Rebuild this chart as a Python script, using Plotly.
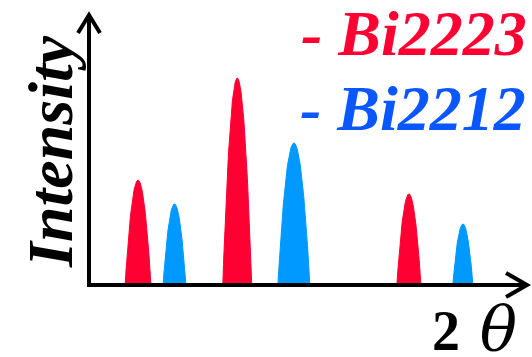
import numpy as np
import plotly.graph_objects as go

# ---- data (arbitrary 2θ units / intensity units) ----
red_centers = [11.4, 34.0, 73.1]
red_heights = [38.7, 76.4, 33.6]
red_widths = [5.9, 6.6, 5.5]

blue_centers = [19.7, 46.9, 85.4]
blue_heights = [29.9, 52.4, 22.5]
blue_widths = [5.2, 7.3, 4.6]

legend_labels = ["- Bi2223", "- Bi2212"]
y_title = "Intensity"
x_title_num = "2"
x_title_sym = "θ"

RED = "#FF0033"
BLUE_PEAK = "#0099FF"
BLUE_TEXT = "#0A57FF"

W, H = 532, 357
# axes mapping: origin pixel and px per unit
OX, OY = 88, 285
UX, UY = 4.39, 2.71
xr = [-OX / UX, (W - OX) / UX]
yr = [-(H - OY) / UY, OY / UY]


def peak(c, h, w):
    a = w / 2.0
    xs = np.linspace(c - a, c + a, 80)
    ys = h * (1 - ((xs - c) / a) ** 2)
    ys = np.clip(ys, 0, None)
    xs = np.concatenate([[c - a], xs, [c + a]])
    ys = np.concatenate([[-0.5], ys, [-0.5]])
    return xs, ys


fig = go.Figure()
for cs, hs, ws, col in [(red_centers, red_heights, red_widths, RED),
                        (blue_centers, blue_heights, blue_widths, BLUE_PEAK)]:
    for c, h, w in zip(cs, hs, ws):
        xs, ys = peak(c, h, w)
        fig.add_trace(go.Scatter(x=xs, y=ys, mode="lines", fill="toself",
                                 fillcolor=col, line=dict(color=col, width=1),
                                 hoverinfo="skip", showlegend=False))


def px(x):
    return (x - OX) / UX


def py(y):
    return (OY - y) / UY


lw = 4
shapes = [
    dict(type="line", x0=px(87), y0=py(285), x1=px(527), y1=py(285)),
    dict(type="line", x0=px(89), y0=py(287), x1=px(89), y1=py(15)),
    dict(type="path", path=f"M {px(78)} {py(33)} L {px(89)} {py(15)} L {px(100)} {py(33)}"),
    dict(type="path", path=f"M {px(506)} {py(273)} L {px(527)} {py(285)} L {px(506)} {py(297)}"),
]
for s in shapes:
    s.update(xref="x", yref="y", line=dict(color="black", width=lw), layer="above")
fig.update_layout(shapes=shapes)

font_family = "Liberation Serif, Times New Roman, serif"
ann = [
    dict(text=f"<b><i>{legend_labels[0]}</i></b>", x=529 / W, y=1 - 33 / H,
         xanchor="right", yanchor="middle", font=dict(size=64, color=RED, family=font_family)),
    dict(text=f"<b><i>{legend_labels[1]}</i></b>", x=528 / W, y=1 - 108 / H,
         xanchor="right", yanchor="middle", font=dict(size=64, color=BLUE_TEXT, family=font_family)),
    dict(text=f"<b><i>{y_title}</i></b>", x=50 / W, y=1 - 152 / H, textangle=-90,
         xanchor="center", yanchor="middle", font=dict(size=64, color="black", family=font_family)),
    dict(text=(f"<b>{x_title_num}</b>"
               f"<span style='font-size:62px;font-family:DejaVu Serif'> <i>{x_title_sym}</i></span>"),
         x=474 / W, y=1 - 328 / H,
         xanchor="center", yanchor="middle", font=dict(size=56, color="black", family=font_family)),
]
for a in ann:
    a.update(xref="paper", yref="paper", showarrow=False)
fig.update_layout(annotations=ann)

fig.update_layout(
    width=W, height=H, margin=dict(l=0, r=0, t=0, b=0),
    paper_bgcolor="white", plot_bgcolor="white",
    xaxis=dict(range=xr, visible=False, fixedrange=True),
    yaxis=dict(range=yr, visible=False, fixedrange=True),
    showlegend=False,
)
fig.write_html("out.html", config={"displayModeBar": False},
               post_script="document.body.style.margin='0';document.body.style.overflow='hidden';")
